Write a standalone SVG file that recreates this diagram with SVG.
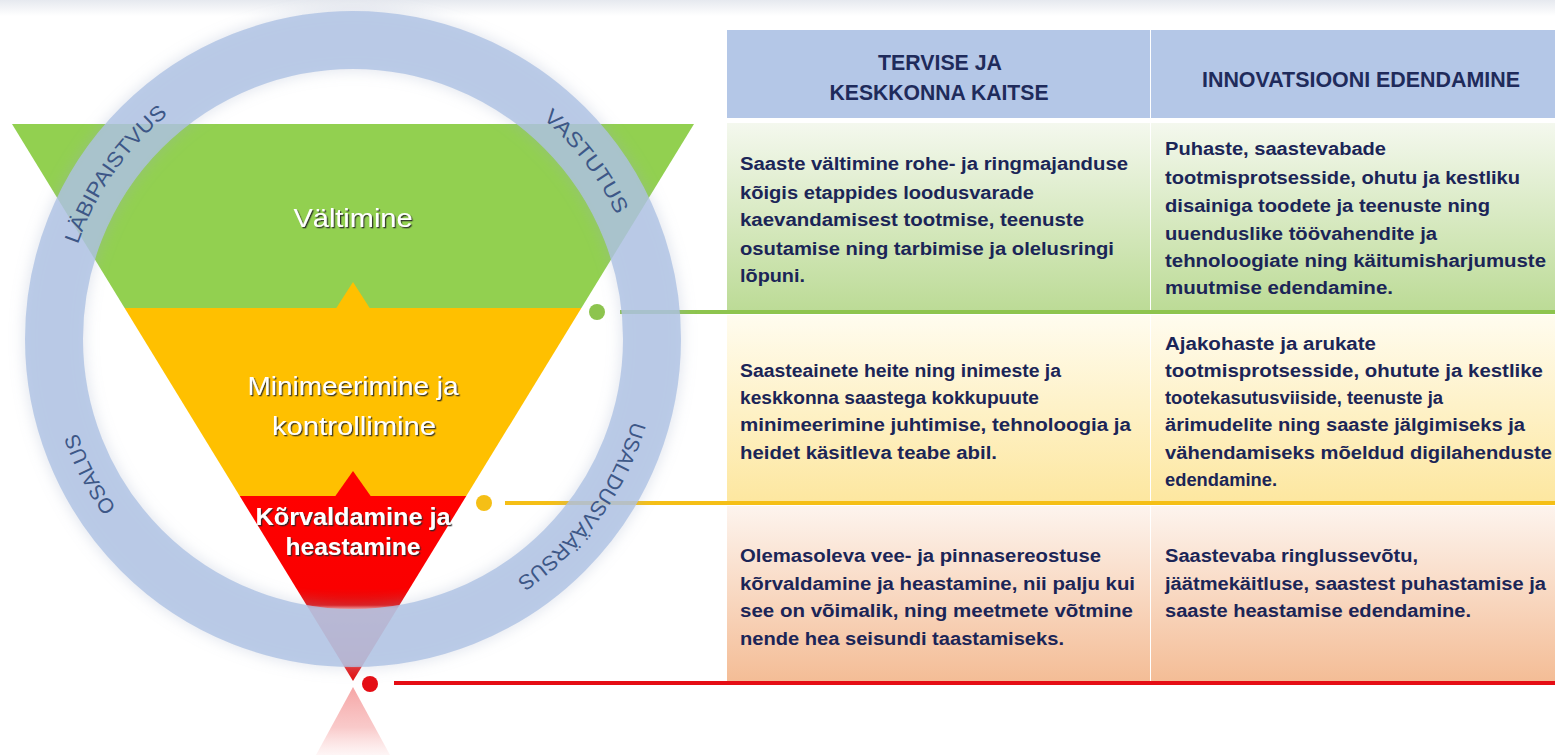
<svg xmlns="http://www.w3.org/2000/svg" width="1555" height="755" viewBox="0 0 1555 755">
<defs>
<style>
.body{font-family:"Liberation Sans Narrow","Liberation Sans",Arial,sans-serif;font-weight:700;font-size:18px;fill:#1b2557;}
.hdr{font-family:"Liberation Sans Narrow","Liberation Sans",Arial,sans-serif;font-weight:700;font-size:22px;fill:#1f2b5b;text-anchor:middle;}
.lbl{font-family:"Liberation Sans",Arial,sans-serif;font-size:26px;fill:#ffffff;text-anchor:middle;}
.lblb{font-family:"Liberation Sans",Arial,sans-serif;font-weight:700;font-size:24px;fill:#ffffff;text-anchor:middle;}
.ring{font-family:"Liberation Sans",Arial,sans-serif;font-size:21px;fill:#3d5787;text-anchor:middle;}
.conn{stroke-width:4;fill:none;}
</style>
<linearGradient id="gTop" x1="0" y1="0" x2="0" y2="1"><stop offset="0" stop-color="#e6e9ef"/><stop offset="1" stop-color="#ffffff"/></linearGradient>
<linearGradient id="gRed" gradientUnits="userSpaceOnUse" x1="0" y1="496" x2="0" y2="681">
<stop offset="0" stop-color="#ff0000"/><stop offset="0.5" stop-color="#fa0000"/><stop offset="0.59" stop-color="#e01212"/><stop offset="0.61" stop-color="#fa8c8c"/><stop offset="0.91" stop-color="#f07070"/><stop offset="0.93" stop-color="#e82020"/><stop offset="1" stop-color="#e01010"/>
</linearGradient>
<linearGradient id="gCone" gradientUnits="userSpaceOnUse" x1="0" y1="686" x2="0" y2="755">
<stop offset="0" stop-color="#ee5a5a" stop-opacity="0.55"/><stop offset="0.6" stop-color="#f07a7a" stop-opacity="0.4"/><stop offset="1" stop-color="#f5a0a0" stop-opacity="0.1"/>
</linearGradient>
<linearGradient id="gGreenRow" x1="0" y1="0" x2="0" y2="1"><stop offset="0" stop-color="#f4f8ee"/><stop offset="1" stop-color="#bcdb96"/></linearGradient>
<linearGradient id="gYellowRow" x1="0" y1="0" x2="0" y2="1"><stop offset="0" stop-color="#fffcef"/><stop offset="1" stop-color="#fde7a0"/></linearGradient>
<linearGradient id="gOrangeRow" x1="0" y1="0" x2="0" y2="1"><stop offset="0" stop-color="#fdf4ee"/><stop offset="1" stop-color="#f4bd96"/></linearGradient>
<filter id="blur" x="-20%" y="-20%" width="140%" height="140%"><feGaussianBlur stdDeviation="7"/></filter>
<filter id="tshadow" x="-10%" y="-30%" width="120%" height="160%"><feDropShadow dx="1.3" dy="1.3" stdDeviation="0.5" flood-color="#2a2a2a" flood-opacity="0.9"/></filter>
<path id="ringPath" d="M 644,339 A 291 291 0 1 1 62,339 A 291 291 0 1 1 644,339"/>
</defs>

<rect x="0" y="0" width="1555" height="755" fill="#ffffff"/>
<rect x="0" y="0" width="1555" height="16" fill="url(#gTop)"/>

<!-- pyramid layers -->
<g id="layer-valtimine">
<polygon points="12,124 694,124 581.4,308 124.6,308" fill="#92d050"/>
<polygon points="353,282 336,308.5 370,308.5" fill="#ffc000"/>
<text class="lbl" x="353" y="227" textLength="119" lengthAdjust="spacingAndGlyphs" filter="url(#tshadow)">Vältimine</text>
</g>
<g id="layer-minimeerimine">
<polygon points="124.6,308 581.4,308 466.3,496 239.7,496" fill="#ffc000"/>
<polygon points="353,471 335,496.5 371,496.5" fill="#ff0000"/>
<text class="lbl" x="353" y="395" textLength="211" lengthAdjust="spacingAndGlyphs" filter="url(#tshadow)">Minimeerimine ja</text>
<text class="lbl" x="354" y="435" textLength="164" lengthAdjust="spacingAndGlyphs" filter="url(#tshadow)">kontrollimine</text>
</g>
<g id="layer-korvaldamine">
<polygon points="239.7,496 466.3,496 353,681" fill="url(#gRed)"/>
<polygon points="353,687 316,755 390,755" fill="url(#gCone)"/>
<text class="lblb" x="353" y="525" textLength="195" lengthAdjust="spacingAndGlyphs" filter="url(#tshadow)">Kõrvaldamine ja</text>
<text class="lblb" x="353" y="555" textLength="135" lengthAdjust="spacingAndGlyphs" filter="url(#tshadow)">heastamine</text>
</g>

<!-- table -->
<g id="header-tervise">
<rect x="727" y="30" width="423" height="88" fill="#b4c7e7"/>
<text class="hdr" x="940" y="70" textLength="124" lengthAdjust="spacingAndGlyphs">TERVISE JA</text>
<text class="hdr" x="939" y="100" textLength="219" lengthAdjust="spacingAndGlyphs">KESKKONNA KAITSE</text>
</g>
<g id="header-innovatsioon">
<rect x="1151" y="30" width="404" height="88" fill="#b4c7e7"/>
<text class="hdr" x="1361" y="87" font-size="23" textLength="318" lengthAdjust="spacingAndGlyphs">INNOVATSIOONI EDENDAMINE</text>
</g>

<g id="cell-valtimine-kaitse">
<rect x="727" y="123" width="423" height="188" fill="url(#gGreenRow)"/>
<text class="body" x="740" y="170" textLength="388" lengthAdjust="spacingAndGlyphs">Saaste vältimine rohe- ja ringmajanduse</text>
<text class="body" x="740" y="199" textLength="294" lengthAdjust="spacingAndGlyphs">kõigis etappides loodusvarade</text>
<text class="body" x="740" y="226" textLength="344" lengthAdjust="spacingAndGlyphs">kaevandamisest tootmise, teenuste</text>
<text class="body" x="740" y="255" textLength="374" lengthAdjust="spacingAndGlyphs">osutamise ning tarbimise ja olelusringi</text>
<text class="body" x="740" y="282" textLength="65" lengthAdjust="spacingAndGlyphs">lõpuni.</text>
</g>
<g id="cell-valtimine-innovatsioon">
<rect x="1151" y="123" width="404" height="188" fill="url(#gGreenRow)"/>
<text class="body" x="1165" y="155" textLength="221" lengthAdjust="spacingAndGlyphs">Puhaste, saastevabade</text>
<text class="body" x="1165" y="184" textLength="355" lengthAdjust="spacingAndGlyphs">tootmisprotsesside, ohutu ja kestliku</text>
<text class="body" x="1165" y="212" textLength="325" lengthAdjust="spacingAndGlyphs">disainiga toodete ja teenuste ning</text>
<text class="body" x="1165" y="240" textLength="272" lengthAdjust="spacingAndGlyphs">uuenduslike töövahendite ja</text>
<text class="body" x="1165" y="267" textLength="381" lengthAdjust="spacingAndGlyphs">tehnoloogiate ning käitumisharjumuste</text>
<text class="body" x="1165" y="294" textLength="228" lengthAdjust="spacingAndGlyphs">muutmise edendamine.</text>
</g>

<g id="cell-minimeerimine-kaitse">
<rect x="727" y="315" width="423" height="186" fill="url(#gYellowRow)"/>
<text class="body" x="740" y="377" textLength="321" lengthAdjust="spacingAndGlyphs">Saasteainete heite ning inimeste ja</text>
<text class="body" x="740" y="404" textLength="299" lengthAdjust="spacingAndGlyphs">keskkonna saastega kokkupuute</text>
<text class="body" x="740" y="431" textLength="391" lengthAdjust="spacingAndGlyphs">minimeerimine juhtimise, tehnoloogia ja</text>
<text class="body" x="740" y="459" textLength="257" lengthAdjust="spacingAndGlyphs">heidet  käsitleva teabe abil.</text>
</g>
<g id="cell-minimeerimine-innovatsioon">
<rect x="1151" y="315" width="404" height="186" fill="url(#gYellowRow)"/>
<text class="body" x="1165" y="350" textLength="211" lengthAdjust="spacingAndGlyphs">Ajakohaste ja arukate</text>
<text class="body" x="1165" y="377" textLength="378" lengthAdjust="spacingAndGlyphs">tootmisprotsesside, ohutute ja kestlike</text>
<text class="body" x="1165" y="404" textLength="278" lengthAdjust="spacingAndGlyphs">tootekasutusviiside, teenuste ja</text>
<text class="body" x="1165" y="431" textLength="360" lengthAdjust="spacingAndGlyphs">ärimudelite ning saaste jälgimiseks ja</text>
<text class="body" x="1165" y="459" textLength="387" lengthAdjust="spacingAndGlyphs">vähendamiseks mõeldud digilahenduste</text>
<text class="body" x="1165" y="486" textLength="112" lengthAdjust="spacingAndGlyphs">edendamine.</text>
</g>

<g id="cell-korvaldamine-kaitse">
<rect x="727" y="506" width="423" height="175" fill="url(#gOrangeRow)"/>
<text class="body" x="740" y="562" textLength="361" lengthAdjust="spacingAndGlyphs">Olemasoleva vee- ja pinnasereostuse</text>
<text class="body" x="740" y="590" textLength="395" lengthAdjust="spacingAndGlyphs">kõrvaldamine ja heastamine, nii palju kui</text>
<text class="body" x="740" y="617" textLength="393" lengthAdjust="spacingAndGlyphs">see on võimalik, ning meetmete võtmine</text>
<text class="body" x="740" y="645" textLength="324" lengthAdjust="spacingAndGlyphs">nende hea seisundi taastamiseks.</text>
</g>
<g id="cell-korvaldamine-innovatsioon">
<rect x="1151" y="506" width="404" height="175" fill="url(#gOrangeRow)"/>
<text class="body" x="1165" y="562" textLength="253" lengthAdjust="spacingAndGlyphs">Saastevaba ringlussevõtu,</text>
<text class="body" x="1165" y="590" textLength="381" lengthAdjust="spacingAndGlyphs">jäätmekäitluse, saastest puhastamise ja</text>
<text class="body" x="1165" y="617" textLength="306" lengthAdjust="spacingAndGlyphs">saaste heastamise edendamine.</text>
</g>

<!-- connectors -->
<g id="connectors">
<line class="conn" x1="620" y1="312" x2="1555" y2="312" stroke="#8dc44e"/>
<circle cx="597" cy="312" r="8" fill="#8dc44e"/>
<line class="conn" x1="505" y1="503" x2="1555" y2="503" stroke="#f5bf16"/>
<circle cx="484" cy="503" r="8" fill="#f5bf16"/>
<line class="conn" x1="394" y1="683" x2="1555" y2="683" stroke="#e50d14"/>
<circle cx="370" cy="684" r="8" fill="#e50d14"/>
</g>

<!-- ring -->
<g id="ring">
<circle cx="353" cy="339" r="299" fill="none" stroke="#9aa8c6" stroke-width="62" stroke-opacity="0.28" filter="url(#blur)"/>
<circle cx="353" cy="339" r="299" fill="none" stroke="#aec2e3" stroke-width="58" stroke-opacity="0.8"/>
</g>
<g id="ring-label-usaldusvaarsus"><text class="ring"><textPath href="#ringPath" startOffset="183.4" textLength="200" lengthAdjust="spacingAndGlyphs">USALDUSVÄÄRSUS</textPath></text></g>
<g id="ring-label-osalus"><text class="ring"><textPath href="#ringPath" startOffset="775.8" textLength="85" lengthAdjust="spacingAndGlyphs">OSALUS</textPath></text></g>
<g id="ring-label-labipaistvus"><text class="ring"><textPath href="#ringPath" startOffset="1090.2" textLength="160" lengthAdjust="spacingAndGlyphs">LÄBIPAISTVUS</textPath></text></g>
<g id="ring-label-vastutus"><text class="ring"><textPath href="#ringPath" startOffset="1638.4" textLength="122" lengthAdjust="spacingAndGlyphs">VASTUTUS</textPath></text></g>
</svg>
